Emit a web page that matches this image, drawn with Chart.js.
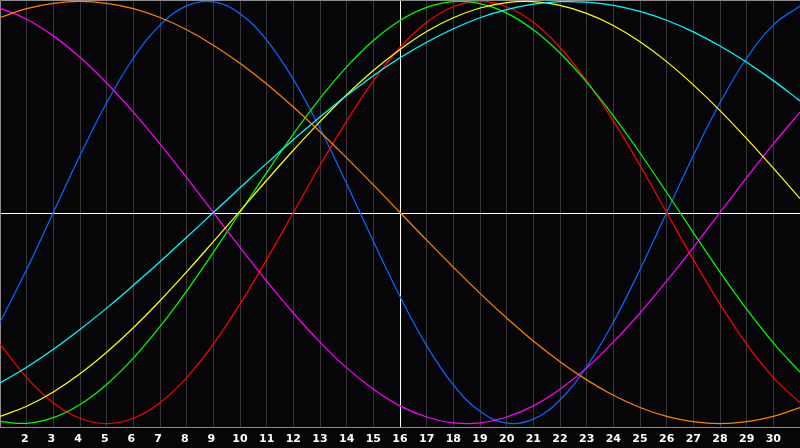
<!DOCTYPE html>
<html>
<head>
<meta charset="utf-8">
<script src="https://cdn.jsdelivr.net/npm/chart.js@4"></script>
<style>
  html, body { margin: 0; padding: 0; background: #060608; }
  canvas { display: block; }
</style>
</head>
<body>
<canvas id="c" width="800" height="448"></canvas>
<script>
// ---- data ----
const days = [1,2,3,4,5,6,7,8,9,10,11,12,13,14,15,16,17,18,19,20,21,22,23,24,25,26,27,28,29,30,31];
const tickLabels = ['', '2','3','4','5','6','7','8','9','10','11','12','13','14','15','16','17','18','19','20','21','22','23','24','25','26','27','28','29','30', ''];
const todayDay = 16;

// blue
const physical = [-0.520,-0.270,0.000,0.270,0.520,0.731,0.888,0.979,0.998,0.942,0.817,0.631,0.398,0.136,-0.136,-0.398,-0.631,-0.817,-0.942,-0.998,-0.979,-0.888,-0.731,-0.520,-0.270,0.000,0.270,0.520,0.731,0.888,0.979];
// red
const emotional = [-0.624,-0.782,-0.901,-0.975,-1.000,-0.975,-0.901,-0.782,-0.624,-0.434,-0.223,0.000,0.223,0.434,0.624,0.782,0.901,0.975,1.000,0.975,0.901,0.782,0.624,0.434,0.223,0.000,-0.223,-0.434,-0.624,-0.782,-0.901];
// green
const intellectual = [-0.990,-0.999,-0.972,-0.910,-0.815,-0.690,-0.541,-0.372,-0.189,0.000,0.189,0.372,0.541,0.690,0.815,0.910,0.972,0.999,0.990,0.945,0.866,0.756,0.618,0.458,0.282,0.095,-0.095,-0.282,-0.458,-0.618,-0.756];
// magenta
const intuitive = [0.969,0.916,0.837,0.736,0.614,0.476,0.325,0.165,0.000,-0.165,-0.325,-0.476,-0.614,-0.736,-0.837,-0.916,-0.969,-0.997,-0.997,-0.969,-0.916,-0.837,-0.736,-0.614,-0.476,-0.325,-0.165,0.000,0.165,0.325,0.476];
// yellow
const aesthetic = [-0.966,-0.918,-0.850,-0.764,-0.662,-0.546,-0.418,-0.281,-0.138,0.007,0.153,0.295,0.431,0.558,0.673,0.773,0.858,0.923,0.969,0.995,0.999,0.982,0.944,0.886,0.809,0.715,0.605,0.483,0.350,0.210,0.066];
// orange
const awareness = [0.924,0.966,0.991,1.000,0.991,0.966,0.924,0.866,0.793,0.707,0.609,0.500,0.383,0.259,0.131,0.000,-0.131,-0.259,-0.383,-0.500,-0.609,-0.707,-0.793,-0.866,-0.924,-0.966,-0.991,-1.000,-0.991,-0.966,-0.924];
// cyan
const spiritual = [-0.807,-0.733,-0.648,-0.554,-0.453,-0.345,-0.233,-0.117,0.000,0.117,0.233,0.345,0.453,0.554,0.648,0.733,0.807,0.871,0.923,0.961,0.987,0.999,0.997,0.982,0.953,0.911,0.856,0.789,0.712,0.625,0.529];

// ---- build ----
const seriesList = [
  { name: 'awareness', values: awareness, color: '#ff8000' },
  { name: 'spiritual', values: spiritual, color: '#00ffff' },
  { name: 'aesthetic', values: aesthetic, color: '#ffff00' },
  { name: 'intuitive', values: intuitive, color: '#ff00ff' },
  { name: 'intellectual', values: intellectual, color: '#00ff00' },
  { name: 'emotional', values: emotional, color: '#ff0000' },
  { name: 'physical', values: physical, color: '#0f64ff' }
];

const datasets = seriesList.map(s => ({
  label: s.name,
  data: days.map((d, i) => ({ x: d, y: s.values[i] })),
  borderColor: s.color,
  borderWidth: 1.25,
  pointRadius: 0,
  pointHoverRadius: 0,
  tension: 0.4,
  fill: false
}));

const framePlugin = {
  id: 'frame',
  beforeDraw(chart) {
    const ctx = chart.ctx;
    ctx.save();
    ctx.fillStyle = '#060608';
    ctx.fillRect(0, 0, chart.width, chart.height);
    ctx.restore();
  },
  beforeDatasetsDraw(chart) {
    const ctx = chart.ctx;
    const a = chart.chartArea;
    const y0 = Math.round(chart.scales.y.getPixelForValue(0)) + 0.5;
    const xt = Math.round(chart.scales.x.getPixelForValue(todayDay)) + 0.5;
    ctx.save();
    ctx.lineWidth = 1;
    ctx.strokeStyle = '#ffffff';
    ctx.beginPath();
    ctx.moveTo(a.left, y0); ctx.lineTo(a.right, y0);
    ctx.moveTo(xt, a.top); ctx.lineTo(xt, a.bottom);
    ctx.stroke();
    ctx.strokeStyle = '#8c8c8c';
    ctx.beginPath();
    ctx.moveTo(a.left + 0.5, a.bottom); ctx.lineTo(a.left + 0.5, a.top + 0.5); ctx.lineTo(a.right, a.top + 0.5);
    ctx.moveTo(a.left, a.bottom - 0.5); ctx.lineTo(a.right, a.bottom - 0.5);
    ctx.stroke();
    ctx.restore();
  }
};

new Chart(document.getElementById('c'), {
  type: 'line',
  data: { datasets },
  plugins: [framePlugin],
  options: {
    responsive: false,
    animation: false,
    devicePixelRatio: 1,
    layout: { padding: 0, autoPadding: false },
    plugins: { legend: { display: false }, tooltip: { enabled: false } },
    scales: {
      x: {
        type: 'linear',
        min: 1,
        max: 31,
        offset: false,
        afterFit(scale) { scale.height = 20; scale.paddingLeft = 0; scale.paddingRight = 0; },
        border: { display: false },
        grid: {
          color: '#383838',
          lineWidth: 1,
          drawTicks: false
        },
        ticks: {
          stepSize: 1,
          autoSkip: false,
          maxRotation: 0,
          padding: 5,
          color: '#ffffff',
          font: { family: 'DejaVu Sans', size: 11, weight: 'bold' },
          callback(value) {
            const lbl = tickLabels[value - 1] || '';
            return lbl.length === 1 ? lbl + ' ' : lbl;
          }
        }
      },
      y: {
        display: false,
        min: -1.021,
        max: 1.007
      }
    }
  }
});
</script>
</body>
</html>
